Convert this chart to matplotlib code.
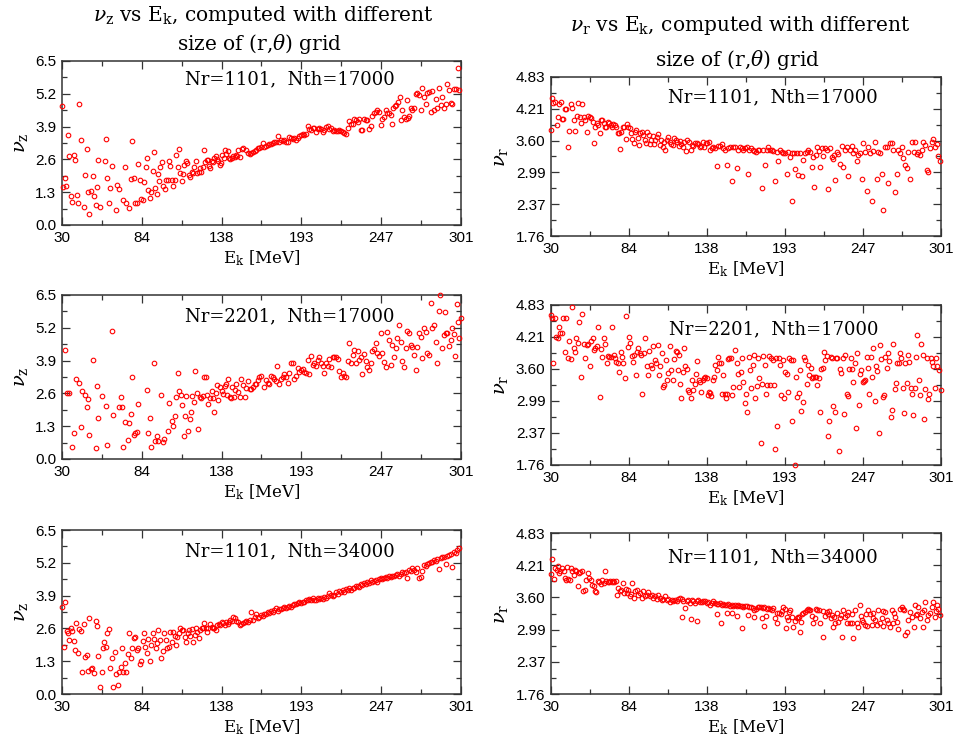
import matplotlib.pyplot as plt

plt.rcParams['font.family'] = 'Liberation Sans'
plt.rcParams['mathtext.fontset'] = 'dejavuserif'

ek_ticks = [30, 84.2, 138.4, 192.6, 246.8, 301]
ek_labels = ['30', '84', '138', '193', '247', '301']
nuz_ticks = [0.0, 1.3, 2.6, 3.9, 5.2, 6.5]
nuz_labels = ['0.0', '1.3', '2.6', '3.9', '5.2', '6.5']
nur_ticks = [1.76, 2.374, 2.988, 3.602, 4.216, 4.83]
nur_labels = ['1.76', '2.37', '2.99', '3.60', '4.21', '4.83']

# (E_k [MeV], nu) pairs
nuz_1101_17k = [
    (30.0, 4.73), (30.7, 1.52), (31.8, 1.88), (32.7, 1.56), (33.8, 3.57), (35.0, 2.75), (36.0, 1.16), (36.8, 0.91),
    (37.9, 2.79), (38.8, 2.56), (39.9, 1.18), (40.8, 0.86), (41.7, 4.78), (42.9, 3.38), (44.9, 0.73), (45.8, 1.98),
    (46.9, 3.00), (47.8, 1.32), (48.7, 0.42), (49.9, 1.35), (50.8, 1.94), (51.9, 1.15), (52.8, 0.81), (53.7, 1.52),
    (54.8, 2.58), (55.7, 0.73), (58.9, 2.55), (59.8, 3.42), (60.7, 1.88), (61.8, 0.86), (62.7, 1.48), (64.1, 2.34),
    (66.8, 0.59), (67.7, 1.59), (68.8, 1.41), (71.8, 0.99), (72.9, 2.29), (73.8, 0.86), (75.8, 0.69), (76.7, 1.81),
    (77.9, 3.34), (79.0, 1.85), (79.7, 0.89), (80.8, 0.89), (81.9, 2.40), (83.0, 1.77), (83.9, 1.02), (84.9, 0.98),
    (85.8, 1.72), (86.9, 2.30), (87.8, 2.67), (88.7, 1.40), (89.8, 1.06), (90.7, 1.29), (91.6, 2.15), (92.5, 2.91),
    (93.4, 1.45), (94.3, 1.23), (95.2, 2.02), (96.1, 1.74), (96.8, 2.31), (97.9, 2.51), (98.6, 1.55), (99.8, 1.43),
    (100.7, 1.80), (101.8, 1.80), (102.7, 2.55), (103.6, 2.34), (104.5, 1.78), (105.6, 1.55), (106.5, 1.80),
    (107.4, 2.77), (108.6, 2.30), (109.5, 3.00), (110.4, 2.05), (111.3, 1.74), (112.2, 2.02), (113.1, 2.38),
    (114.0, 2.54), (115.1, 2.44), (116.0, 1.98), (116.9, 1.92), (118.0, 2.11), (118.9, 2.05), (120.0, 2.31),
    (120.9, 2.54), (121.9, 2.05), (122.8, 2.11), (123.7, 2.25), (124.6, 2.11), (125.5, 2.29), (126.4, 2.97),
    (127.1, 2.51), (128.2, 2.59), (129.1, 2.58), (129.8, 2.33), (130.7, 2.25), (131.6, 2.55), (132.5, 2.51),
    (133.4, 2.64), (134.5, 2.75), (135.4, 2.62), (136.3, 2.54), (137.2, 2.38), (138.1, 2.44), (139.0, 2.77),
    (139.9, 2.67), (140.8, 2.97), (141.7, 2.80), (142.6, 2.93), (143.5, 2.64), (144.4, 2.62), (145.3, 2.67),
    (146.2, 2.75), (147.2, 2.71), (148.1, 2.77), (149.0, 2.75), (149.9, 2.97),
    (150.6, 2.71), (152.4, 3.00), (153.3, 3.04), (154.7, 2.97), (156.2, 2.84), (157.4, 2.80), (158.5, 2.84),
    (159.6, 2.88), (160.8, 2.95), (161.9, 2.97), (163.0, 3.04), (164.1, 3.07), (165.3, 3.11), (166.4, 3.24),
    (167.5, 3.11), (168.7, 3.13), (169.8, 3.17), (170.9, 3.20), (172.1, 3.20), (173.2, 3.24), (174.3, 3.28),
    (175.4, 3.28), (176.6, 3.53), (177.7, 3.28), (178.8, 3.37), (180.0, 3.33), (181.1, 3.37), (182.2, 3.30),
    (183.3, 3.28), (184.5, 3.50), (185.6, 3.46), (186.7, 3.41), (187.9, 3.43), (189.0, 3.37), (190.1, 3.46),
    (191.2, 3.54), (192.4, 3.57), (193.5, 3.59), (194.6, 3.57), (195.8, 3.59), (196.9, 3.92), (198.0, 3.80),
    (199.1, 3.76), (200.3, 3.83), (201.4, 3.86), (202.5, 3.67), (203.7, 3.80), (204.8, 3.86), (205.9, 3.80),
    (207.0, 3.70), (208.2, 3.76), (209.3, 3.90), (210.4, 3.92), (211.6, 3.80), (212.7, 3.86), (213.8, 3.73),
    (215.0, 3.76), (216.1, 3.73), (217.2, 3.73), (218.3, 3.76), (219.5, 3.73), (220.6, 3.70), (221.7, 3.63),
    (222.9, 3.59), (224.0, 3.86), (225.1, 4.12), (226.2, 3.99), (227.4, 4.02), (228.5, 4.22), (229.6, 4.15),
    (230.8, 4.09), (231.9, 4.20), (233.0, 3.75), (234.1, 3.75), (235.3, 4.20), (236.4, 4.16), (237.5, 4.16),
    (238.7, 3.80), (239.8, 3.94), (240.9, 4.32), (242.0, 4.43), (243.2, 4.49), (244.3, 4.56), (245.4, 4.49),
    (246.6, 3.96), (247.7, 4.20), (248.8, 4.27), (249.9, 4.56), (251.1, 4.45), (252.2, 4.43), (253.3, 4.36),
    (254.5, 4.00), (255.1, 4.62), (256.3, 4.73), (257.2, 4.76), (258.5, 4.89), (259.4, 5.09), (260.6, 4.16),
    (261.2, 4.56), (262.4, 4.29), (263.5, 4.19), (264.2, 4.95), (265.3, 4.25), (265.8, 4.33), (266.9, 4.65),
    (268.0, 4.56), (269.1, 4.62), (270.3, 5.18), (271.4, 5.25), (272.5, 5.15), (273.7, 4.56), (274.8, 5.42),
    (275.9, 5.09), (277.0, 4.78), (278.2, 5.22), (279.3, 5.26), (280.4, 4.49), (281.6, 5.31), (282.7, 4.56),
    (283.8, 4.99), (285.0, 4.62), (286.1, 5.42), (287.2, 4.76), (288.3, 5.09), (289.5, 4.62), (290.6, 4.78),
    (291.7, 5.59), (292.9, 5.35), (294.0, 4.82), (295.1, 4.78), (296.2, 5.38), (297.8, 5.39), (298.9, 6.24),
    (299.6, 5.35),
]

nuz_2201_17k = [
    (31.8, 4.32), (33.5, 2.63), (34.5, 2.63), (36.8, 0.49), (37.9, 1.04), (39.7, 3.16), (41.7, 3.03), (42.9, 1.28),
    (43.8, 2.69), (45.8, 2.54), (46.9, 2.05), (47.8, 2.38), (48.7, 0.96), (50.8, 3.94), (52.8, 0.44), (53.7, 2.91),
    (54.8, 1.62), (56.9, 2.50), (59.8, 2.10), (60.7, 0.54), (63.9, 5.09), (65.0, 1.74), (68.8, 2.05), (69.9, 2.47),
    (70.9, 2.07), (71.8, 0.46), (72.9, 1.47), (74.9, 0.75), (75.8, 1.44), (76.7, 1.77), (77.9, 3.26), (78.8, 0.95),
    (79.7, 1.04), (80.8, 1.08), (81.7, 2.18), (87.8, 2.75), (88.7, 1.02), (89.8, 1.62), (90.7, 0.46), (92.8, 3.79),
    (93.4, 0.71), (94.6, 0.92), (95.5, 0.71), (97.5, 2.54), (98.6, 0.66), (99.5, 0.81), (101.8, 1.12), (102.7, 2.21),
    (104.5, 1.51), (105.6, 1.31), (106.5, 1.70), (107.7, 2.47), (108.6, 3.42), (109.5, 2.69), (110.6, 2.52),
    (111.7, 2.14), (112.6, 0.91), (113.5, 1.70), (114.4, 2.50), (115.6, 1.11), (116.7, 1.59), (117.6, 1.88),
    (118.5, 2.50), (119.6, 2.25), (120.5, 3.49), (121.4, 2.63), (122.5, 1.20), (123.5, 2.44), (124.6, 2.40),
    (125.7, 2.50), (126.6, 3.24), (127.5, 3.26), (128.6, 2.55), (129.5, 2.17), (130.5, 2.40), (131.6, 2.69),
    (132.7, 2.40), (133.6, 1.88), (134.5, 2.63), (135.4, 2.93), (136.3, 2.34), (137.4, 2.84), (138.6, 2.69),
    (139.5, 2.56), (140.4, 2.89), (141.3, 2.97), (142.2, 2.54), (143.1, 3.17), (144.0, 2.47), (144.9, 2.40),
    (145.8, 2.87), (146.7, 2.47), (147.8, 2.73), (148.5, 2.97), (149.4, 2.67),
    (150.6, 2.47), (151.7, 3.16), (152.9, 2.93), (154.0, 2.47), (155.1, 2.80), (156.3, 3.09), (157.4, 2.76),
    (158.5, 2.76), (159.6, 2.87), (160.8, 2.97), (161.9, 2.99), (163.0, 3.13), (164.1, 3.26), (165.3, 3.30),
    (167.5, 2.87), (168.7, 3.13), (169.8, 3.00), (170.9, 2.97), (172.1, 3.29), (173.2, 3.24), (174.3, 3.16),
    (175.4, 3.08), (176.1, 3.69), (177.7, 2.97), (178.8, 3.16), (180.0, 3.26), (181.1, 3.36), (182.2, 3.26),
    (183.3, 3.00), (184.5, 3.42), (185.6, 3.79), (186.7, 3.79), (187.9, 3.16), (189.0, 3.30), (190.1, 3.59),
    (191.2, 3.45), (192.4, 3.52), (193.5, 3.55), (194.6, 3.45), (195.8, 3.40), (196.9, 3.92), (198.0, 3.37),
    (199.2, 4.08), (200.3, 3.72), (201.4, 3.82), (202.5, 3.69), (203.7, 3.92), (204.8, 4.03), (205.9, 3.79),
    (207.0, 3.69), (208.2, 3.40), (209.3, 3.82), (210.4, 3.69), (211.6, 3.95), (212.7, 3.63), (213.8, 4.03),
    (214.9, 4.03), (216.1, 4.06), (217.2, 3.98), (218.3, 3.50), (219.5, 3.24), (220.6, 3.42), (221.7, 3.29),
    (222.9, 3.26), (224.0, 3.88), (225.1, 4.58), (226.3, 3.79), (227.4, 4.12), (228.5, 4.32), (229.6, 3.82),
    (230.8, 4.28), (231.9, 3.92), (233.0, 4.03), (234.1, 3.37), (235.3, 4.16), (236.4, 3.88), (237.5, 3.66),
    (238.7, 3.53), (239.8, 3.82), (240.9, 4.29), (242.0, 4.35), (243.2, 4.58), (244.3, 4.19), (245.4, 4.08),
    (246.6, 4.98), (247.7, 4.19), (248.8, 3.85), (250.0, 3.63), (251.1, 5.05), (252.2, 4.72), (253.3, 3.73),
    (254.5, 4.52), (255.6, 4.06), (256.7, 4.39), (257.8, 4.78), (259.0, 5.31), (260.1, 4.65), (261.2, 3.90),
    (262.4, 3.63), (263.5, 4.39), (264.6, 5.09), (265.7, 5.01), (266.9, 4.52), (268.0, 4.45), (269.2, 4.12),
    (270.3, 3.53), (271.4, 4.45), (272.5, 5.01), (273.7, 4.85), (274.8, 3.99), (275.9, 5.18), (277.0, 5.05),
    (278.2, 4.19), (279.3, 4.12), (280.4, 6.17), (281.6, 5.18), (282.7, 5.31), (283.8, 4.65), (285.0, 3.82),
    (286.1, 5.88), (286.8, 6.48), (288.3, 4.39), (289.5, 4.91), (290.1, 5.83), (290.6, 4.98), (291.7, 5.01),
    (292.9, 4.48), (294.0, 4.70), (295.1, 5.20), (296.2, 4.95), (296.9, 4.08), (298.0, 6.13), (299.0, 5.44),
    (299.6, 4.81), (301.0, 5.60),
]

nuz_1101_34k = [
    (30.0, 3.46), (31.1, 1.88), (32.3, 3.66), (33.2, 2.50), (34.1, 2.40), (35.0, 2.14), (35.9, 2.60), (36.8, 2.51),
    (37.9, 2.10), (38.8, 1.74), (39.7, 2.80), (40.8, 1.61), (41.7, 2.58), (42.9, 2.50), (43.8, 0.89), (44.9, 2.77),
    (45.8, 1.48), (46.7, 1.55), (47.8, 0.91), (48.7, 3.00), (49.6, 0.99), (50.5, 1.04), (51.7, 0.82), (53.0, 2.89),
    (53.7, 2.71), (54.8, 1.52), (55.7, 0.29), (56.9, 0.86), (57.8, 1.81), (58.7, 2.05), (59.8, 1.88), (60.7, 2.40),
    (61.8, 2.58), (62.7, 1.04), (63.9, 1.44), (64.8, 0.29), (66.0, 1.68), (66.8, 0.78), (67.9, 0.36), (68.8, 0.86),
    (69.9, 1.08), (70.9, 1.81), (71.8, 0.86), (72.9, 1.22), (73.8, 0.86), (74.9, 1.57), (75.8, 2.43), (76.7, 1.41),
    (77.9, 1.81), (79.0, 2.23), (79.9, 2.25), (80.8, 1.74), (81.7, 1.81), (82.8, 1.19), (83.7, 1.32), (84.9, 2.10),
    (85.8, 2.40), (86.7, 1.88), (87.8, 1.61), (88.7, 2.17), (89.6, 1.32), (90.7, 1.94), (91.6, 2.40), (92.5, 2.17),
    (93.7, 1.84), (94.6, 2.01), (95.5, 2.54), (96.6, 2.14), (97.5, 1.44), (98.4, 1.70), (99.5, 2.40), (100.4, 2.14),
    (101.6, 1.81), (102.5, 1.88), (103.4, 2.47), (104.5, 2.07), (105.4, 2.47), (106.5, 2.30), (107.4, 1.94),
    (108.3, 2.27), (109.5, 2.40), (110.4, 2.60), (111.3, 2.54), (112.4, 2.54), (113.3, 2.27), (114.2, 2.07),
    (115.3, 2.43), (116.2, 2.54), (117.1, 2.31), (118.0, 2.58), (119.2, 2.07), (120.1, 2.34), (121.0, 2.60),
    (121.9, 2.47), (123.0, 2.23), (123.9, 2.54), (124.8, 2.63), (126.0, 2.60), (126.8, 2.80), (127.7, 2.60),
    (128.6, 2.47), (129.5, 2.60), (130.5, 2.76), (131.6, 2.67), (132.5, 2.60), (133.6, 2.60), (134.5, 2.54),
    (135.4, 2.73), (136.5, 2.77), (137.4, 2.73), (138.6, 2.87), (139.5, 2.80), (140.6, 2.73), (141.7, 2.87),
    (142.6, 2.76), (143.5, 2.84), (144.4, 2.93), (145.4, 2.88), (146.3, 3.06), (147.4, 3.00), (148.5, 2.89),
    (149.5, 2.85),
    (150.6, 2.73), (151.7, 2.76), (152.9, 2.80), (154.0, 2.84), (155.1, 2.89), (156.2, 2.84), (157.4, 2.92),
    (158.5, 3.24), (159.6, 2.93), (160.8, 3.06), (161.9, 3.16), (163.0, 3.03), (164.1, 3.06), (165.3, 3.13),
    (166.4, 3.09), (167.5, 3.18), (168.7, 3.16), (169.8, 3.24), (170.9, 3.21), (172.1, 3.29), (173.2, 3.26),
    (174.3, 3.33), (175.4, 3.40), (176.6, 3.30), (177.7, 3.36), (178.8, 3.37), (180.0, 3.42), (181.1, 3.45),
    (182.2, 3.40), (183.3, 3.46), (184.5, 3.50), (185.6, 3.46), (186.7, 3.53), (187.9, 3.55), (189.0, 3.55),
    (190.1, 3.59), (191.2, 3.63), (192.4, 3.59), (193.5, 3.66), (194.6, 3.63), (195.8, 3.71), (196.9, 3.73),
    (198.0, 3.76), (199.1, 3.71), (200.3, 3.79), (201.4, 3.74), (202.5, 3.73), (203.7, 3.79), (204.8, 3.76),
    (205.9, 3.82), (207.0, 3.76), (208.2, 3.86), (209.3, 3.82), (210.4, 3.90), (211.6, 3.99), (212.7, 3.92),
    (213.8, 3.87), (214.9, 3.92), (216.1, 4.03), (217.2, 3.98), (218.3, 4.08), (219.5, 4.03), (220.6, 4.12),
    (221.7, 4.06), (222.9, 4.16), (224.0, 4.11), (225.1, 4.19), (226.2, 4.13), (227.4, 4.21), (228.5, 4.19),
    (229.6, 4.27), (230.8, 4.29), (231.9, 4.24), (233.0, 4.35), (234.1, 4.32), (235.3, 4.40), (236.4, 4.37),
    (237.5, 4.45), (238.7, 4.40), (239.8, 4.52), (240.9, 4.45), (242.0, 4.48), (243.2, 4.50), (244.3, 4.45),
    (245.4, 4.54), (246.6, 4.58), (247.7, 4.56), (248.8, 4.61), (249.9, 4.64), (251.1, 4.58), (252.2, 4.66),
    (253.3, 4.64), (254.5, 4.69), (255.6, 4.66), (256.7, 4.72), (257.8, 4.74), (259.0, 4.69), (260.1, 4.77),
    (261.2, 4.82), (262.4, 4.80), (263.5, 4.85), (264.6, 4.58), (265.7, 4.91), (266.9, 4.87), (268.0, 4.98),
    (269.1, 4.91), (270.3, 4.85), (271.4, 4.98), (272.5, 4.61), (273.7, 4.65), (274.8, 4.87), (275.9, 5.11),
    (277.0, 5.09), (278.2, 5.14), (279.3, 5.18), (280.4, 5.22), (281.6, 5.24), (282.7, 5.31), (283.8, 5.27),
    (284.9, 5.35), (286.1, 4.94), (287.2, 5.38), (288.3, 5.42), (289.4, 5.44), (290.6, 5.14), (291.7, 5.48),
    (292.8, 5.51), (294.0, 5.54), (294.7, 5.05), (296.2, 5.61), (297.4, 5.57), (298.5, 5.71), (299.6, 5.77),
]

nur_1101_17k = [
    (30.0, 3.81), (30.7, 4.42), (31.6, 4.33), (32.8, 4.34), (33.9, 3.90), (34.6, 4.06), (35.6, 4.30), (36.7, 4.35),
    (37.6, 4.01), (38.6, 4.01), (39.5, 4.22), (40.7, 4.22), (41.8, 3.47), (42.7, 3.79), (43.7, 4.30), (44.8, 4.24),
    (45.9, 4.00), (46.9, 3.79), (47.8, 4.08), (48.8, 4.33), (49.9, 4.05), (50.8, 3.95), (51.8, 4.30), (52.9, 4.06),
    (53.9, 3.99), (54.8, 3.76), (56.0, 4.08), (57.1, 4.06), (58.0, 4.03), (58.9, 3.97), (59.9, 3.55), (60.8, 3.86),
    (61.7, 3.95), (62.9, 3.90), (63.8, 3.74), (64.7, 3.99), (65.7, 4.00), (66.6, 3.95), (67.5, 3.86), (68.5, 3.86),
    (69.4, 3.97), (70.3, 3.95), (71.5, 3.90), (72.4, 3.86), (73.3, 3.92), (74.5, 3.90), (75.4, 3.87), (76.3, 3.74),
    (77.3, 3.74), (78.0, 3.44), (78.9, 3.77), (79.8, 3.87), (80.7, 3.86), (81.9, 3.63), (82.8, 3.93), (83.7, 3.86),
    (84.7, 3.84), (85.6, 3.74), (86.5, 3.63), (87.4, 3.56), (88.4, 3.77), (89.3, 3.81), (90.2, 3.65), (91.2, 3.52),
    (92.1, 3.74), (93.0, 3.77), (94.2, 3.71), (95.1, 3.61), (96.0, 3.56), (97.0, 3.76), (97.9, 3.71), (98.8, 3.54),
    (99.7, 3.61), (100.7, 3.69), (101.6, 3.54), (102.5, 3.61), (103.4, 3.68), (104.6, 3.73), (105.5, 3.52),
    (106.4, 3.61), (107.6, 3.48), (108.5, 3.58), (109.5, 3.42), (110.4, 3.61), (111.5, 3.68), (112.7, 3.58),
    (113.6, 3.54), (114.5, 3.52), (115.7, 3.65), (116.9, 3.61), (117.8, 3.58), (118.7, 3.50), (119.6, 3.60),
    (120.6, 3.54), (121.5, 3.48), (122.4, 3.58), (123.6, 3.41), (124.7, 3.61), (125.9, 3.58), (127.1, 3.42),
    (128.0, 3.52), (128.9, 3.50), (130.1, 3.56), (131.2, 3.56), (132.4, 3.54), (133.5, 3.47), (134.5, 3.50),
    (135.4, 3.58), (136.6, 3.48), (137.5, 3.56), (138.6, 3.55), (139.6, 3.58), (140.5, 3.42), (141.7, 3.45),
    (142.8, 3.48), (144.0, 3.45), (145.1, 3.11), (146.3, 3.50), (147.4, 3.50), (148.6, 3.54), (149.8, 3.45),
    (150.9, 3.42), (152.1, 3.14), (153.2, 3.45), (154.4, 3.48), (155.6, 2.83), (156.7, 3.48), (157.9, 3.47),
    (159.0, 3.08), (160.2, 3.43), (161.3, 3.47), (162.5, 3.45), (163.7, 3.42), (164.8, 3.45), (166.0, 3.47),
    (166.7, 2.95), (167.8, 3.42), (169.0, 3.45), (170.1, 3.42), (171.3, 3.41), (172.5, 3.39), (173.6, 3.43),
    (174.8, 3.42), (176.4, 2.68), (177.6, 3.42), (178.7, 3.13), (179.9, 3.42), (181.0, 3.47), (182.2, 3.43),
    (183.3, 3.42), (184.5, 3.41), (185.7, 2.82), (186.8, 3.39), (188.0, 3.21), (189.1, 3.43), (190.3, 3.39),
    (191.5, 3.37), (192.6, 3.36), (193.8, 2.96), (194.9, 3.39), (196.1, 3.28), (197.2, 3.36), (197.7, 2.44),
    (198.9, 3.37), (199.6, 3.05), (200.7, 3.37), (201.9, 2.94), (203.0, 3.36), (204.2, 2.91), (205.4, 3.23),
    (206.5, 3.37), (207.7, 3.39), (208.8, 3.42), (210.0, 3.39), (211.1, 3.10), (212.3, 3.29), (213.0, 2.71),
    (214.2, 3.32), (215.1, 3.47), (216.0, 3.41), (217.0, 3.10), (218.1, 3.45), (219.3, 3.30), (220.4, 3.45),
    (221.6, 3.43), (222.8, 2.66), (223.9, 3.45), (225.1, 3.29), (225.7, 3.24), (226.7, 3.32), (227.6, 2.84),
    (228.5, 3.39), (229.7, 3.34), (230.8, 3.15), (232.0, 3.50), (233.2, 3.09), (234.3, 3.43), (235.5, 3.48),
    (236.6, 2.92), (237.8, 3.43), (238.9, 3.50), (240.1, 3.36), (241.3, 3.42), (242.4, 3.20), (243.6, 3.32),
    (244.7, 3.37), (245.9, 2.87), (247.0, 3.55), (248.2, 3.39), (249.4, 2.62), (250.5, 3.48), (251.7, 3.36),
    (252.9, 2.44), (254.0, 3.41), (255.2, 3.58), (256.3, 2.87), (257.5, 3.39), (258.6, 3.37), (259.8, 2.96),
    (261.0, 2.26), (262.1, 3.47), (263.3, 3.47), (264.4, 2.78), (265.6, 3.55), (266.8, 3.56), (267.9, 3.42),
    (269.1, 2.60), (270.2, 2.96), (271.4, 3.42), (272.6, 3.36), (273.7, 3.47), (274.9, 3.26), (276.0, 3.13),
    (277.2, 3.07), (278.4, 3.39), (279.5, 2.86), (280.7, 3.58), (281.9, 3.39), (283.0, 3.58), (284.2, 3.34),
    (285.3, 3.39), (286.5, 3.32), (287.6, 3.42), (288.8, 3.58), (290.0, 3.52), (291.1, 3.03), (292.2, 3.00),
    (293.4, 3.45), (294.5, 3.58), (295.7, 3.63), (296.9, 3.48), (298.0, 3.54), (299.2, 3.30), (300.3, 3.20),
]

nur_2201_17k = [
    (30.0, 4.64), (30.7, 4.59), (31.6, 3.71), (32.5, 4.59), (33.5, 4.22), (34.6, 4.19), (35.6, 4.41), (36.5, 4.30),
    (37.6, 4.30), (38.6, 4.59), (39.5, 3.92), (40.7, 4.59), (41.8, 3.82), (42.7, 4.14), (43.7, 3.79), (44.6, 4.80),
    (45.8, 4.00), (46.7, 3.92), (47.6, 4.19), (48.5, 4.11), (49.7, 4.50), (50.6, 3.45), (51.8, 4.65), (52.9, 4.08),
    (53.9, 3.82), (54.8, 4.06), (56.0, 4.09), (56.9, 3.66), (58.0, 4.13), (58.9, 4.20), (59.9, 3.97), (60.8, 4.01),
    (61.7, 4.05), (62.9, 4.40), (63.8, 3.07), (64.7, 3.99), (65.7, 3.84), (66.6, 4.19), (67.5, 4.08), (68.7, 3.71),
    (69.6, 3.85), (70.5, 3.84), (71.5, 3.84), (72.6, 4.40), (73.5, 3.87), (74.5, 3.81), (75.4, 3.74), (76.3, 3.71),
    (77.5, 3.55), (78.4, 3.92), (79.3, 3.84), (80.3, 3.72), (81.2, 3.42), (82.1, 4.61), (83.3, 4.03), (84.2, 4.21),
    (85.1, 4.11), (86.1, 3.86), (87.0, 3.73), (87.9, 3.87), (88.8, 3.49), (89.8, 3.93), (90.7, 4.01), (91.6, 3.90),
    (92.5, 3.88), (93.5, 3.13), (94.4, 3.90), (95.6, 4.19), (96.5, 3.65), (97.4, 3.49), (98.3, 3.95), (99.3, 3.67),
    (100.2, 3.63), (101.1, 4.05), (102.0, 3.77), (103.2, 3.71), (104.1, 4.06), (105.1, 3.49), (106.0, 3.66),
    (106.9, 3.90), (107.8, 3.26), (108.8, 3.29), (109.7, 3.77), (110.6, 3.39), (111.5, 3.52), (112.7, 4.05),
    (113.6, 3.58), (114.5, 3.39), (115.7, 3.79), (116.6, 3.95), (117.6, 3.93), (118.5, 3.58), (119.2, 3.87),
    (119.6, 3.31), (120.6, 3.05), (121.5, 3.55), (122.4, 4.00), (123.4, 3.65), (124.3, 3.60), (125.2, 3.20),
    (126.1, 3.17), (127.1, 3.04), (128.0, 3.39), (129.0, 3.20), (129.9, 3.31), (130.8, 3.50), (131.7, 3.76),
    (132.6, 3.39), (133.5, 3.35), (134.5, 3.17), (135.4, 3.39), (136.3, 3.42), (137.2, 3.44), (138.2, 3.42),
    (139.1, 3.10), (139.8, 3.17), (140.5, 3.15), (141.4, 3.09), (142.3, 3.39), (143.3, 3.45), (144.2, 3.67),
    (145.1, 3.58), (146.1, 3.84), (147.0, 3.71), (147.9, 3.71), (148.8, 3.13), (149.8, 3.49), (150.7, 3.12),
    (151.6, 3.04), (152.5, 3.12), (153.2, 3.79), (153.9, 3.81), (154.9, 3.81), (155.8, 3.10), (156.7, 3.26),
    (157.9, 3.97), (159.0, 3.71), (160.2, 3.50), (160.9, 3.26), (161.8, 3.54), (162.7, 3.81), (163.7, 3.35),
    (164.8, 2.94), (165.5, 3.13), (166.4, 2.77), (167.4, 3.84), (168.3, 3.58), (169.2, 3.23), (170.1, 3.67),
    (171.1, 3.88), (172.0, 3.04), (172.9, 3.28), (173.8, 3.81), (174.8, 3.42), (175.7, 2.19), (176.6, 3.31),
    (177.6, 3.85), (178.5, 3.68), (179.4, 3.13), (180.3, 3.29), (181.3, 3.85), (182.2, 3.29), (183.1, 3.82),
    (184.0, 3.77), (185.0, 3.29), (185.7, 2.07), (186.4, 3.81), (187.3, 2.51), (188.2, 3.81), (189.1, 3.68),
    (190.1, 3.10), (191.0, 3.77), (191.9, 3.04), (192.8, 3.54), (193.8, 3.50), (194.7, 3.17), (195.6, 3.82),
    (196.5, 3.77), (197.2, 2.60), (198.4, 3.77), (199.3, 1.76), (200.3, 3.45), (201.2, 3.07), (202.1, 3.15),
    (203.0, 3.58), (204.0, 2.80), (204.9, 2.96), (205.8, 3.84), (206.7, 3.77), (207.7, 3.31), (208.6, 3.67),
    (209.5, 3.49), (210.4, 3.63), (211.4, 3.42), (212.3, 3.44), (213.2, 3.45), (214.1, 3.44), (215.1, 3.29),
    (216.0, 3.42), (216.9, 2.78), (217.9, 3.61), (218.8, 3.63), (219.7, 3.92), (220.6, 3.77), (221.6, 3.86),
    (222.5, 2.32), (223.4, 2.60), (224.3, 3.84), (225.3, 3.82), (226.2, 2.89), (227.1, 2.78), (228.1, 3.81),
    (229.0, 3.81), (229.9, 2.02), (230.8, 3.60), (231.8, 3.52), (232.7, 3.81), (233.6, 2.74), (234.5, 3.87),
    (235.5, 3.13), (236.4, 3.09), (237.3, 3.60), (238.2, 3.81), (239.2, 3.60), (240.1, 3.35), (241.0, 3.71),
    (241.9, 2.46), (242.9, 3.90), (243.8, 2.92), (244.7, 3.50), (245.7, 3.58), (246.6, 3.35), (247.5, 3.37),
    (248.4, 3.39), (249.4, 3.84), (250.3, 3.63), (251.2, 3.13), (252.1, 3.84), (253.1, 3.44), (254.0, 4.01),
    (254.9, 2.98), (255.9, 3.65), (256.8, 3.56), (257.7, 2.37), (258.6, 4.06), (259.6, 3.79), (260.5, 3.07),
    (261.4, 3.10), (262.3, 3.84), (263.3, 3.63), (264.2, 3.90), (265.1, 3.76), (266.1, 2.69), (267.0, 2.82),
    (267.9, 4.09), (268.8, 3.22), (269.8, 3.33), (270.7, 3.71), (271.6, 3.71), (272.5, 3.90), (273.5, 3.81),
    (274.4, 3.23), (275.3, 2.75), (276.2, 3.71), (277.2, 3.33), (278.1, 3.88), (279.0, 3.74), (280.0, 3.23),
    (280.9, 3.12), (281.8, 2.71), (282.7, 3.23), (283.7, 3.84), (284.6, 4.25), (285.5, 3.39), (286.4, 3.10),
    (287.4, 4.09), (288.3, 3.88), (289.2, 2.64), (290.1, 3.22), (291.1, 3.82), (292.0, 3.03), (292.9, 3.13),
    (293.8, 3.81), (294.8, 3.74), (295.7, 3.65), (296.6, 3.23), (297.6, 3.82), (298.5, 3.65), (299.8, 3.58),
    (300.8, 3.20),
]

nur_1101_34k = [
    (30.0, 4.05), (31.0, 4.34), (31.9, 3.96), (32.8, 4.16), (33.9, 4.13), (34.6, 4.21), (35.6, 4.07), (36.5, 4.10),
    (37.4, 4.16), (38.8, 4.11), (39.7, 3.97), (40.4, 3.94), (41.4, 4.18), (42.0, 3.96), (43.0, 3.94), (43.9, 4.16),
    (44.8, 4.10), (45.8, 4.03), (46.7, 4.13), (47.6, 4.10), (48.5, 3.81), (49.5, 4.07), (50.4, 4.09), (51.3, 4.11),
    (52.5, 3.72), (53.6, 3.75), (54.6, 3.94), (55.5, 4.07), (56.4, 3.97), (57.6, 3.94), (58.7, 3.83), (59.7, 3.81),
    (60.6, 3.72), (61.5, 3.70), (62.4, 3.92), (63.6, 3.89), (64.5, 3.86), (65.4, 3.94), (66.6, 3.88), (67.5, 4.10),
    (68.5, 3.91), (69.4, 3.90), (70.3, 3.90), (71.2, 3.92), (72.2, 3.90), (73.1, 3.91), (74.0, 3.90), (74.9, 3.91),
    (75.9, 3.64), (76.8, 3.79), (78.0, 3.73), (78.9, 3.75), (79.8, 3.88), (80.7, 3.69), (81.9, 3.77), (82.8, 3.69),
    (83.7, 3.75), (84.7, 3.62), (85.6, 3.67), (86.5, 3.88), (87.4, 3.59), (88.4, 3.72), (89.5, 3.75), (90.7, 3.65),
    (91.8, 3.69), (93.0, 3.59), (94.2, 3.73), (95.3, 3.62), (96.5, 3.65), (97.6, 3.70), (98.8, 3.62), (100.0, 3.65),
    (101.1, 3.59), (102.3, 3.62), (103.4, 3.58), (104.6, 3.65), (105.7, 3.59), (106.9, 3.56), (108.1, 3.58),
    (109.2, 3.62), (110.4, 3.56), (111.5, 3.58), (112.7, 3.51), (113.9, 3.56), (115.0, 3.54), (116.2, 3.56),
    (117.3, 3.53), (118.5, 3.58), (119.6, 3.59), (120.8, 3.58), (120.8, 3.22), (122.0, 3.54), (123.1, 3.40),
    (124.3, 3.54), (125.4, 3.56), (126.6, 3.50), (127.1, 3.19), (127.8, 3.56), (128.9, 3.54), (130.1, 3.50),
    (131.2, 3.53), (131.7, 3.16), (132.4, 3.56), (133.5, 3.51), (134.7, 3.51), (135.9, 3.53), (137.0, 3.54),
    (138.2, 3.50), (139.3, 3.51), (140.5, 3.46), (141.6, 3.50), (142.8, 3.53), (144.0, 3.49), (145.1, 3.48),
    (145.6, 3.29), (146.3, 3.47), (147.4, 3.49), (147.9, 3.11), (148.6, 3.46), (149.8, 3.47), (150.9, 3.45),
    (152.1, 3.46), (152.5, 3.30), (153.2, 3.47), (154.4, 3.44), (155.6, 3.45), (156.0, 3.30), (156.7, 3.43),
    (157.9, 3.46), (159.0, 3.25), (159.6, 3.44), (160.2, 3.45), (161.3, 3.44), (162.5, 3.43), (163.0, 3.01),
    (163.7, 3.42), (164.8, 3.44), (166.0, 3.43), (167.1, 3.27), (167.8, 3.41), (169.0, 3.42), (170.1, 3.40),
    (171.1, 3.22), (171.3, 3.36), (172.5, 3.38), (173.6, 3.41), (174.8, 3.42), (175.9, 3.41), (176.4, 3.20),
    (177.1, 3.40), (178.0, 3.06), (178.2, 3.41), (179.2, 3.25), (179.9, 3.39), (181.0, 3.40), (182.2, 3.39),
    (183.3, 3.37), (184.5, 3.40), (185.7, 3.20), (186.8, 3.12), (187.0, 3.30), (188.4, 3.30), (189.8, 3.29),
    (190.3, 3.34), (191.5, 3.41), (192.6, 3.38), (193.1, 3.01), (193.8, 3.23), (194.9, 3.18), (195.5, 3.32),
    (196.3, 3.37), (197.5, 3.22), (198.4, 3.03), (199.6, 3.16), (200.7, 3.20), (201.9, 3.22), (202.5, 3.22),
    (203.0, 2.95), (203.5, 3.14), (204.2, 3.28), (205.4, 3.31), (206.5, 3.33), (207.7, 3.36), (208.8, 3.39),
    (209.3, 3.36), (210.0, 3.37), (211.1, 3.25), (212.3, 3.11), (213.5, 3.20), (214.0, 3.38), (215.1, 3.37),
    (216.3, 3.37), (217.0, 3.12), (218.8, 2.85), (219.0, 3.35), (220.4, 3.25), (221.6, 3.33), (222.5, 3.29),
    (223.4, 3.35), (224.5, 3.21), (225.1, 3.27), (226.2, 3.04), (226.7, 3.23), (227.4, 3.12), (228.5, 3.31),
    (229.7, 3.14), (230.8, 3.20), (231.5, 3.27), (232.0, 2.84), (233.2, 3.36), (234.3, 3.23), (235.5, 3.12),
    (236.0, 3.27), (236.6, 3.33), (237.8, 3.11), (238.9, 3.11), (239.5, 3.28), (240.1, 2.82), (241.3, 3.36),
    (242.4, 3.11), (243.6, 3.03), (244.7, 3.46), (245.2, 3.25), (245.9, 3.18), (247.0, 3.14), (248.2, 3.08),
    (248.7, 3.29), (249.4, 3.06), (250.5, 3.36), (251.7, 3.28), (252.9, 3.08), (253.5, 3.21), (254.0, 3.30),
    (255.2, 3.17), (256.3, 3.08), (257.5, 3.37), (258.6, 3.11), (259.8, 3.20), (260.5, 3.34), (261.0, 3.06),
    (262.1, 3.33), (263.3, 3.17), (264.4, 3.11), (265.6, 3.04), (266.8, 3.36), (267.9, 3.12), (268.5, 3.30),
    (269.1, 3.23), (270.2, 3.14), (271.4, 3.00), (272.6, 3.39), (273.7, 3.41), (274.9, 3.39), (275.5, 3.36),
    (276.0, 2.89), (277.2, 2.95), (278.4, 3.17), (279.5, 3.33), (280.7, 3.22), (281.9, 3.04), (283.0, 3.46),
    (283.5, 3.27), (284.2, 3.29), (285.3, 3.41), (286.5, 3.20), (287.6, 3.33), (288.8, 3.04), (289.5, 3.36),
    (290.0, 3.52), (291.1, 3.17), (292.2, 3.27), (293.4, 3.31), (294.5, 3.41), (295.7, 3.52), (296.9, 3.23),
    (297.5, 3.35), (298.0, 3.46), (299.2, 3.39), (300.3, 3.27),
]


def mids(t):
    return [(a + b) / 2 for a, b in zip(t[:-1], t[1:])]


def panel(fig, rect, pts, yticks, ylabels, ylab, note, note_y):
    ax = fig.add_axes(rect)
    e = [p[0] for p in pts]
    nu = [p[1] for p in pts]
    ax.plot(e, nu, 'o', ls='none', mfc='none', mec='red', ms=3.3, mew=0.8,
            clip_on=False, zorder=3)
    ax.set_xlim(30, 301)
    ax.set_ylim(yticks[0], yticks[-1])
    ax.set_xticks(ek_ticks)
    ax.set_xticklabels(ek_labels)
    ax.set_xticks(mids(ek_ticks), minor=True)
    ax.set_yticks(yticks)
    ax.set_yticklabels(ylabels)
    ax.set_yticks(mids(yticks), minor=True)
    ax.tick_params(which='both', direction='in', top=True, right=True,
                   labelsize=11, width=0.9, color='#333333', pad=4)
    ax.tick_params(which='major', length=6)
    ax.tick_params(which='minor', length=3.5)
    for s in ax.spines.values():
        s.set_linewidth(1.1)
        s.set_color('#333333')
    ax.set_xlabel(r'E$_{\rm k}$ [MeV]', family='DejaVu Serif', fontsize=12, labelpad=3)
    ax.set_ylabel(ylab, fontsize=14, labelpad=4)
    ax.text(0.57, note_y, note, transform=ax.transAxes, ha='center', va='center',
            family='DejaVu Serif', fontsize=13)
    return ax


fig = plt.figure(figsize=(9.68, 7.41), dpi=100)

nuz_lab = r'$\nu_{\rm z}$'
nur_lab = r'$\nu_{\rm r}$'

panel(fig, [0.0640, 0.6964, 0.4122, 0.2213], nuz_1101_17k, nuz_ticks, nuz_labels, nuz_lab,
      'Nr=1101,  Nth=17000', 0.885)
panel(fig, [0.0640, 0.3806, 0.4122, 0.2213], nuz_2201_17k, nuz_ticks, nuz_labels, nuz_lab,
      'Nr=2201,  Nth=17000', 0.87)
panel(fig, [0.0640, 0.0634, 0.4122, 0.2213], nuz_1101_34k, nuz_ticks, nuz_labels, nuz_lab,
      'Nr=1101,  Nth=34000', 0.87)
panel(fig, [0.5692, 0.6815, 0.4029, 0.2146], nur_1101_17k, nur_ticks, nur_labels, nur_lab,
      'Nr=1101,  Nth=17000', 0.875)
panel(fig, [0.5692, 0.3725, 0.4029, 0.2159], nur_2201_17k, nur_ticks, nur_labels, nur_lab,
      'Nr=2201,  Nth=17000', 0.85)
panel(fig, [0.5692, 0.0634, 0.4029, 0.2173], nur_1101_34k, nur_ticks, nur_labels, nur_lab,
      'Nr=1101,  Nth=34000', 0.85)

tkw = dict(ha='center', va='center', family='DejaVu Serif', fontsize=14.5)
fig.text(0.272, 0.979, r'$\nu_{\rm z}$ vs E$_{\rm k}$, computed with different', **tkw)
fig.text(0.268, 0.941, r'size of (r,$\theta$) grid', **tkw)
fig.text(0.764, 0.966, r'$\nu_{\rm r}$ vs E$_{\rm k}$, computed with different', **tkw)
fig.text(0.762, 0.919, r'size of (r,$\theta$) grid', **tkw)

fig.savefig('out.png', dpi=100)
